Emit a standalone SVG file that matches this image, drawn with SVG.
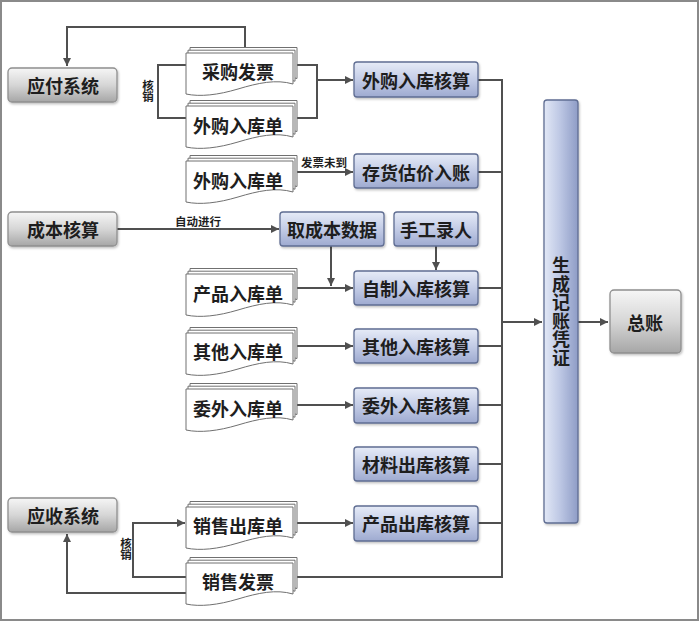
<svg xmlns="http://www.w3.org/2000/svg" width="700" height="622" viewBox="0 0 700 622">
<style>
.t{font-family:"Noto Sans CJK SC","Noto Sans",sans-serif;font-weight:bold;fill:#1e1e1e;text-anchor:middle;dominant-baseline:central}
.big{font-size:18px}
.sm{font-size:11.5px}
.blue{fill:url(#gBlue);stroke:#5f6d92;stroke-width:1.3}
.grey{fill:url(#gGrey);stroke:#8f8f8f;stroke-width:1.3}
.pg{fill:#fff;stroke:#707070;stroke-width:1}
.ln{fill:none;stroke:#505050;stroke-width:2}
.ar{marker-end:url(#arr)}
</style>
<defs>
<linearGradient id="gBlue" x1="0" y1="0" x2="0" y2="1">
<stop offset="0" stop-color="#e6ebf7"/>
<stop offset="0.5" stop-color="#c3cce6"/>
<stop offset="1" stop-color="#9eaad0"/>
</linearGradient>
<linearGradient id="gBlueV" x1="0" y1="0" x2="1" y2="0">
<stop offset="0" stop-color="#e2e8f6"/>
<stop offset="0.45" stop-color="#bfc9e5"/>
<stop offset="1" stop-color="#8e9cc6"/>
</linearGradient>
<linearGradient id="gGrey" x1="0" y1="0" x2="0" y2="1">
<stop offset="0" stop-color="#f6f6f6"/>
<stop offset="0.5" stop-color="#d6d6d6"/>
<stop offset="1" stop-color="#a6a6a6"/>
</linearGradient>
<filter id="sh" x="-10%" y="-10%" width="125%" height="130%">
<feDropShadow dx="1" dy="1.5" stdDeviation="1.2" flood-color="#000" flood-opacity="0.25"/>
</filter>
<marker id="arr" markerUnits="userSpaceOnUse" markerWidth="9" markerHeight="8" refX="8" refY="4" orient="auto">
<path d="M0,0 L8,4 L0,8 Z" fill="#505050"/>
</marker>
<path id="page" d="M0,0 H107 V31 C90,26 72,30 52,36 C32,42 14,44 0,41 Z"/>
<g id="doc">
<use href="#page" class="pg" x="4" y="-5.5"/>
<use href="#page" class="pg" x="2" y="-2.8"/>
<use href="#page" class="pg"/>
</g>
</defs>
<rect x="0" y="0" width="700" height="622" fill="#fff"/>
<rect x="1" y="1" width="697" height="619" fill="none" stroke="#8a8a8a" stroke-width="2"/>

<g id="connectors">
<path class="ln ar" d="M245,48 V27 H67 V66"/>
<path class="ln" d="M186,65 H158 V118 H186"/>
<path class="ln" d="M297,65 H317 V118 H297"/>
<path class="ln ar" d="M317,80 H353"/>
<path class="ln ar" d="M297,172 H353"/>
<path class="ln ar" d="M117,229 H279"/>
<path class="ln ar" d="M331,246 V286"/>
<path class="ln ar" d="M297,288 H353"/>
<path class="ln ar" d="M436,246 V270"/>
<path class="ln ar" d="M297,346 H353"/>
<path class="ln ar" d="M297,405 H353"/>
<path class="ln ar" d="M297,523 H353"/>
<path class="ln ar" d="M186,577 H133 V523 H185"/>
<path class="ln ar" d="M186,593 H67 V534"/>
<path class="ln" d="M478,80 H502 V577 H297"/>
<path class="ln" d="M478,172 H502 M478,288 H502 M478,346 H502 M478,405 H502 M478,464 H502 M478,523 H502"/>
<path class="ln ar" d="M502,322 H542"/>
<path class="ln ar" d="M578,322 H608"/>
<text class="t sm" x="148" y="91" writing-mode="vertical-rl">核销</text>
<text class="t sm" x="126" y="549" writing-mode="vertical-rl">核销</text>
<text class="t sm" x="324" y="162">发票未到</text>
<text class="t sm" x="198" y="221">自动进行</text>
</g>

<g id="yingfu"><rect class="grey" filter="url(#sh)" x="8" y="68" width="109" height="34" rx="4"/><text class="t big" x="63" y="85">应付系统</text></g>
<g id="chengben"><rect class="grey" filter="url(#sh)" x="8" y="212" width="109" height="34" rx="4"/><text class="t big" x="63" y="229">成本核算</text></g>
<g id="yingshou"><rect class="grey" filter="url(#sh)" x="8" y="498" width="109" height="34" rx="4"/><text class="t big" x="63" y="515">应收系统</text></g>
<g id="zongzhang"><rect class="grey" filter="url(#sh)" x="610" y="290" width="71" height="63" rx="4"/><text class="t big" x="645" y="322">总账</text></g>

<g id="doc-caigou"><use href="#doc" x="186" y="53"/><text class="t big" x="238" y="71">采购发票</text></g>
<g id="doc-waigou1"><use href="#doc" x="186" y="106"/><text class="t big" x="238" y="125">外购入库单</text></g>
<g id="doc-waigou2"><use href="#doc" x="186" y="161"/><text class="t big" x="238" y="180">外购入库单</text></g>
<g id="doc-chanpin"><use href="#doc" x="186" y="274"/><text class="t big" x="238" y="293">产品入库单</text></g>
<g id="doc-qita"><use href="#doc" x="186" y="333"/><text class="t big" x="238" y="351">其他入库单</text></g>
<g id="doc-weiwai"><use href="#doc" x="186" y="389"/><text class="t big" x="238" y="408">委外入库单</text></g>
<g id="doc-xiaoshouck"><use href="#doc" x="186" y="507"/><text class="t big" x="238" y="525">销售出库单</text></g>
<g id="doc-xiaoshoufp"><use href="#doc" x="186" y="563"/><text class="t big" x="238" y="581">销售发票</text></g>

<g id="waigouhs"><rect class="blue" filter="url(#sh)" x="354" y="62" width="124" height="35" rx="3"/><text class="t big" x="416" y="80">外购入库核算</text></g>
<g id="cunhuo"><rect class="blue" filter="url(#sh)" x="354" y="154" width="124" height="34" rx="3"/><text class="t big" x="416" y="172">存货估价入账</text></g>
<g id="qucb"><rect class="blue" filter="url(#sh)" x="280" y="212" width="104" height="34" rx="3"/><text class="t big" x="332" y="229">取成本数据</text></g>
<g id="shougong"><rect class="blue" filter="url(#sh)" x="394" y="212" width="84" height="34" rx="3"/><text class="t big" x="436" y="229">手工录人</text></g>
<g id="zizhi"><rect class="blue" filter="url(#sh)" x="354" y="271" width="124" height="34" rx="3"/><text class="t big" x="416" y="288">自制入库核算</text></g>
<g id="qitahs"><rect class="blue" filter="url(#sh)" x="354" y="329" width="124" height="34" rx="3"/><text class="t big" x="416" y="346">其他入库核算</text></g>
<g id="weiwaihs"><rect class="blue" filter="url(#sh)" x="354" y="388" width="124" height="35" rx="3"/><text class="t big" x="416" y="405">委外入库核算</text></g>
<g id="cailiao"><rect class="blue" filter="url(#sh)" x="354" y="447" width="124" height="34" rx="3"/><text class="t big" x="416" y="464">材料出库核算</text></g>
<g id="chanpinck"><rect class="blue" filter="url(#sh)" x="354" y="506" width="124" height="35" rx="3"/><text class="t big" x="416" y="523">产品出库核算</text></g>
<g id="pingzheng"><rect fill="url(#gBlueV)" stroke="#5f6d92" stroke-width="1.3" filter="url(#sh)" x="544" y="100" width="34" height="423" rx="3"/>
<text class="t big" x="561" y="312" writing-mode="vertical-rl" letter-spacing="0.5">生成记账凭证</text></g>
</svg>
